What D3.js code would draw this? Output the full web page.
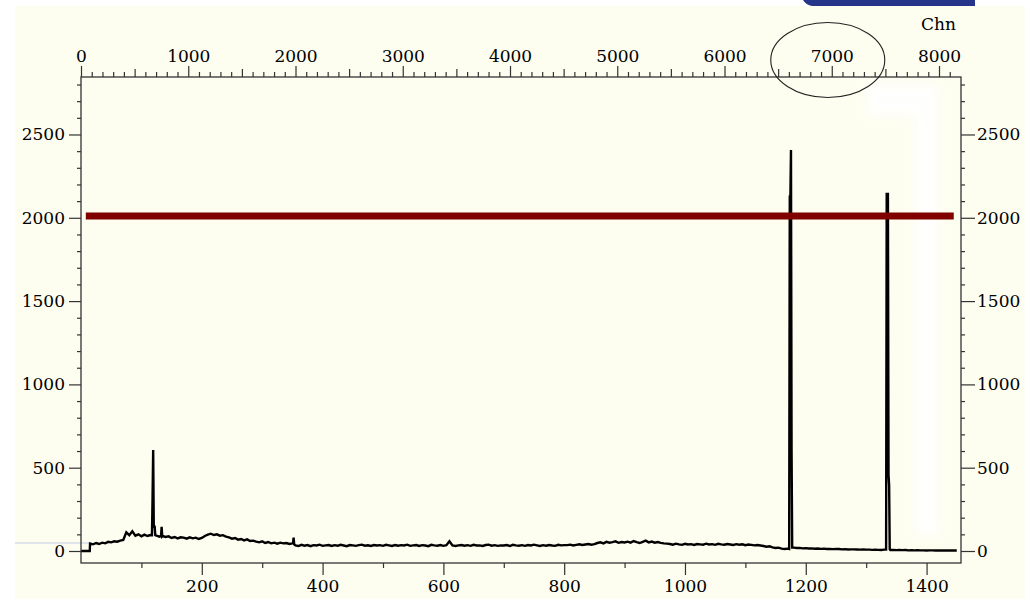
<!DOCTYPE html>
<html>
<head>
<meta charset="utf-8">
<script src="https://cdn.jsdelivr.net/npm/d3@7"></script>
<style>
  body { margin: 0; background: #ffffff; }
  svg text { font-family: "DejaVu Serif", "Liberation Serif", serif; fill: #000; }
</style>
</head>
<body>
<div id="chart"></div>
<script>
// background counts, one value every 5 keV starting at 15 keV
var bgStartKeV = 15, bgStepKeV = 5;
var bgCounts = [
  // 15 - 70
  45,40,48,42,50,46,55,52,58,56,62,66,
  // 75 - 120
  112,95,118,92,100,88,98,90,96,104,
  // 125 - 140
  92,86,90,84,
  // 145 - 200
  88,78,84,76,82,80,74,82,76,80,72,78,
  // 205 - 245
  90,98,104,96,100,92,95,86,82,
  // 250 - 290
  74,78,68,72,64,70,60,62,56,
  // 295 - 350
  52,58,48,54,46,50,44,50,46,48,42,46,
  // 355 - 800
  34,30,37,32,36,29,35,33,38,31,
  34,36,30,35,32,37,33,29,36,34,
  31,35,38,32,34,30,36,33,35,31,
  37,34,30,36,32,35,33,38,31,34,
  36,30,35,33,29,37,34,32,36,31,
  35,58,33,30,34,36,32,35,31,37,
  33,34,30,36,38,32,35,31,34,33,
  36,30,37,34,32,35,31,36,33,38,
  34,30,35,32,36,33,31,37,34,35,
  // 805 - 850
  35,38,33,37,40,36,39,42,38,41,
  // 855 - 970
  48,52,46,55,50,53,58,49,54,51,56,50,60,53,48,55,62,52,57,50,54,49,46,44,
  // 975 - 1125
  42,38,44,40,37,43,39,41,36,42,40,38,44,39,41,37,43,40,38,42,39,36,41,38,40,35,39,37,34,36,33,
  // 1130 - 1170
  30,26,28,22,18,20,14,12,14,
  // 1175 - 1330
  22,20,18,19,16,17,15,16,14,15,13,14,12,13,11,12,12,10,11,9,10,10,9,8,9,8,8,7,8,7,6,8,
  // 1335 - 1450
  8,6,7,5,6,5,6,4,5,4,5,4,4,3,4,4,3,4,3,3,4,3,3,3
];

// peaks (keV, counts)
var peak122KeV  = [117.5, 118.5, 119.5, 120.5, 122, 123];
var peak122Cts  = [95, 326, 606, 146, 146, 95];
var peak136KeV  = [132.5, 133.5, 134.5];
var peak136Cts  = [90, 145, 88];
var peak352KeV  = [351, 352, 353];
var peak352Cts  = [46, 80, 40];
var peak1173KeV = [1172.5, 1173.5, 1174.5, 1175.5, 1176.5, 1177.5];
var peak1173Cts = [12, 2127, 2127, 2407, 596, 20];
var peak1332KeV = [1333, 1334, 1335, 1336, 1337, 1338, 1339];
var peak1332Cts = [8, 2143, 2143, 2143, 456, 396, 10];

var energyTicks  = [200, 400, 600, 800, 1000, 1200, 1400];
var channelTicks = [0, 1000, 2000, 3000, 4000, 5000, 6000, 7000, 8000];
var countTicks   = [0, 500, 1000, 1500, 2000, 2500];

var thresholdCounts = 2010;
var thresholdKeV = [8, 1445];

var W = 1025, H = 599;
var frame = {left: 81, right: 961, top: 77, bottom: 563};

var svg = d3.select("#chart").append("svg")
    .attr("width", W)
    .attr("height", H);

var defs = svg.append("defs");
defs.append("filter").attr("id", "blur")
    .attr("x", "-50%").attr("y", "-20%").attr("width", "200%").attr("height", "140%")
  .append("feGaussianBlur").attr("stdDeviation", 5);

// cream paper
svg.append("rect")
    .attr("x", 15).attr("y", 6)
    .attr("width", W - 15).attr("height", H - 6)
    .attr("fill", "#fdfdf0");

// blue tab at the top
svg.append("path")
    .attr("d", "M803,0 L975,0 L975,6 L812,6 Q806,5 803,0 Z")
    .attr("fill", "#26358a");

var x = d3.scaleLinear().domain([0, 1457]).range([frame.left, frame.right]);     // keV
var xChn = d3.scaleLinear().domain([0, 8205]).range([frame.left, frame.right]);  // channel
var y = d3.scaleLinear().domain([-72, 2845]).range([frame.bottom, frame.top]);

// glare from the scan (soft)
var glare = svg.append("g").attr("filter", "url(#blur)").attr("opacity", 0.85);
glare.append("rect").attr("x", 915).attr("y", 86).attr("width", 24).attr("height", 450)
    .attr("fill", "#ffffff");
glare.append("rect").attr("x", 866).attr("y", 84).attr("width", 70).attr("height", 32)
    .attr("fill", "#ffffff");
svg.append("line").attr("x1", 15).attr("x2", 92).attr("y1", 543).attr("y2", 543)
    .attr("stroke", "#d4dde6").attr("stroke-width", 1.5);

// build the spectrum: background with peaks spliced in
var peaks = [
  [peak122KeV, peak122Cts], [peak136KeV, peak136Cts], [peak352KeV, peak352Cts],
  [peak1173KeV, peak1173Cts], [peak1332KeV, peak1332Cts]
];
var pts = [[0, 0], [14.5, 0]];
bgCounts.forEach(function(c, i) {
  var e = bgStartKeV + i * bgStepKeV;
  var inPeak = peaks.some(function(p) { return e >= p[0][0] && e <= p[0][p[0].length - 1]; });
  if (!inPeak) pts.push([e, c]);
});
peaks.forEach(function(p) {
  p[0].forEach(function(e, i) { pts.push([e, p[1][i]]); });
});
pts.sort(function(a, b) { return a[0] - b[0]; });

svg.append("path")
    .datum(pts)
    .attr("fill", "none")
    .attr("stroke", "#000")
    .attr("stroke-width", 2.4)
    .attr("stroke-linejoin", "miter")
    .attr("d", d3.line().x(function(d) { return x(d[0]); }).y(function(d) { return y(d[1]); }));

// threshold bar
svg.append("line")
    .attr("x1", x(thresholdKeV[0])).attr("x2", x(thresholdKeV[1]))
    .attr("y1", y(thresholdCounts)).attr("y2", y(thresholdCounts))
    .attr("stroke", "#800000")
    .attr("stroke-width", 7);

// frame
svg.append("rect")
    .attr("x", frame.left).attr("y", frame.top)
    .attr("width", frame.right - frame.left).attr("height", frame.bottom - frame.top)
    .attr("fill", "none").attr("stroke", "#333").attr("stroke-width", 1.3);

function styleAxis(g) {
  g.select(".domain").remove();
  g.selectAll("line").attr("stroke", "#333").attr("stroke-width", 1.2);
  g.selectAll("text").style("font-size", "17px").attr("fill", "#000");
}

var fmt = d3.format("d");

// left / right counts axes
var yMinor = d3.range(100, 2900, 100).filter(function(v) { return v % 500 != 0; });
svg.append("g").attr("transform", "translate(" + frame.left + ",0)")
    .call(d3.axisLeft(y).tickValues(countTicks).tickFormat(fmt).tickSize(12).tickPadding(4)).call(styleAxis);
svg.append("g").attr("transform", "translate(" + frame.left + ",0)")
    .call(d3.axisLeft(y).tickValues(yMinor).tickSize(4).tickFormat("")).call(styleAxis);
svg.append("g").attr("transform", "translate(" + frame.right + ",0)")
    .call(d3.axisRight(y).tickValues(countTicks).tickFormat(fmt).tickSize(14).tickPadding(2)).call(styleAxis);
svg.append("g").attr("transform", "translate(" + frame.right + ",0)")
    .call(d3.axisRight(y).tickValues(yMinor).tickSize(4).tickFormat("")).call(styleAxis);

// bottom energy axis
var xMinor = d3.range(100, 1500, 200);
svg.append("g").attr("transform", "translate(0," + frame.bottom + ")")
    .call(d3.axisBottom(x).tickValues(energyTicks).tickFormat(fmt).tickSize(12).tickPadding(5)).call(styleAxis);
svg.append("g").attr("transform", "translate(0," + frame.bottom + ")")
    .call(d3.axisBottom(x).tickValues(xMinor).tickSize(5).tickFormat("")).call(styleAxis);

// top channel axis
var chnMid = d3.range(500, 8200, 1000);
var chnMinor = d3.range(100, 8200, 100).filter(function(v) { return v % 500 != 0; });
svg.append("g").attr("transform", "translate(0," + frame.top + ")")
    .call(d3.axisTop(xChn).tickValues(channelTicks).tickFormat(fmt).tickSize(11).tickPadding(4)).call(styleAxis);
svg.append("g").attr("transform", "translate(0," + frame.top + ")")
    .call(d3.axisTop(xChn).tickValues(chnMid).tickSize(8).tickFormat("")).call(styleAxis);
svg.append("g").attr("transform", "translate(0," + frame.top + ")")
    .call(d3.axisTop(xChn).tickValues(chnMinor).tickSize(5).tickFormat("")).call(styleAxis);

svg.append("text")
    .attr("x", 956).attr("y", 30)
    .attr("text-anchor", "end")
    .style("font-size", "17px")
    .text("Chn");

// hand drawn circle round 7000
svg.append("ellipse")
    .attr("cx", xChn(7000) - 4).attr("cy", 60)
    .attr("rx", 57).attr("ry", 37.5)
    .attr("fill", "none").attr("stroke", "#222").attr("stroke-width", 1.1);
</script>
</body>
</html>
